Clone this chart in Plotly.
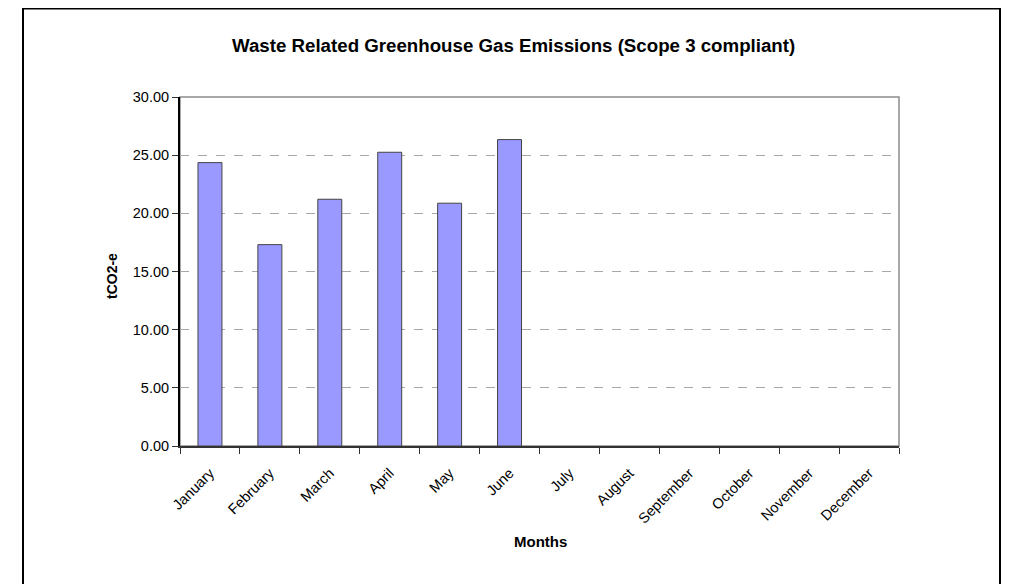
import plotly.graph_objects as go

months = ["January", "February", "March", "April", "May", "June",
          "July", "August", "September", "October", "November", "December"]
emissions = [24.36, 17.31, 21.21, 25.25, 20.87, 26.34, None, None, None, None, None, None]
y_ticks = [0, 5, 10, 15, 20, 25, 30]
y_tick_labels = ["0.00", "5.00", "10.00", "15.00", "20.00", "25.00", "30.00"]

# page body has an 8px margin; work in page pixels and convert
OFF = 8
W, H = 1009 - 2 * OFF, 584 - OFF
L, R, T, B = 180 - OFF, 899 - OFF, 97 - OFF, 446 - OFF

def px(x):
    return (x - OFF - L) / (R - L)

def py(y):
    return (B - (y - OFF)) / (B - T)

fig = go.Figure()
fig.add_trace(go.Bar(
    x=months, y=emissions,
    marker=dict(color="#9999FF", line=dict(color="#444444", width=1)),
    hoverinfo="x+y",
))

font = "Liberation Sans, Arial, sans-serif"
fig.update_layout(
    width=W, height=H,
    margin=dict(l=L, r=W - R, t=T, b=H - B),
    paper_bgcolor="white", plot_bgcolor="white",
    bargap=0.6, showlegend=False,
    font=dict(family=font, color="black", size=14),
    xaxis=dict(
        type="category", categoryorder="array", categoryarray=months,
        tickangle=-45, tickson="boundaries", ticks="outside", ticklen=6,
        tickcolor="#333", showline=True, linecolor="#333", linewidth=2,
        showgrid=False, tickfont=dict(size=14.5), range=[-0.5, 11.5],
        ticklabelstandoff=11,
    ),
    yaxis=dict(
        range=[0, 30], tickvals=y_ticks, ticktext=y_tick_labels,
        ticks="outside", ticklen=6, tickcolor="#333",
        showline=True, linecolor="black", linewidth=2,
        showgrid=True, gridcolor="#a8a8a8", griddash="dash", gridwidth=1,
        zeroline=False, tickfont=dict(size=14.5),
    ),
    shapes=[
        dict(type="rect", xref="paper", yref="paper", x0=0, x1=1, y0=0, y1=1,
             line=dict(color="#8c8c8c", width=1.5), layer="below"),
        dict(type="rect", xref="paper", yref="paper",
             x0=px(23), x1=px(1000), y0=py(620), y1=py(8.5),
             line=dict(color="black", width=2)),
    ],
    annotations=[
        dict(text="<b>Waste Related Greenhouse Gas Emissions (Scope 3 compliant)</b>",
             xref="paper", yref="paper", x=px(513), y=py(45), showarrow=False,
             xanchor="center", yanchor="middle", font=dict(size=18.7)),
        dict(text="<b>tCO2-e</b>", textangle=-90,
             xref="paper", yref="paper", x=px(112), y=py(276), showarrow=False,
             xanchor="center", yanchor="middle", font=dict(size=14)),
        dict(text="<b>Months</b>",
             xref="paper", yref="paper", x=px(540), y=py(541), showarrow=False,
             xanchor="center", yanchor="middle", font=dict(size=15)),
    ],
)

fig.write_html("out.html")
